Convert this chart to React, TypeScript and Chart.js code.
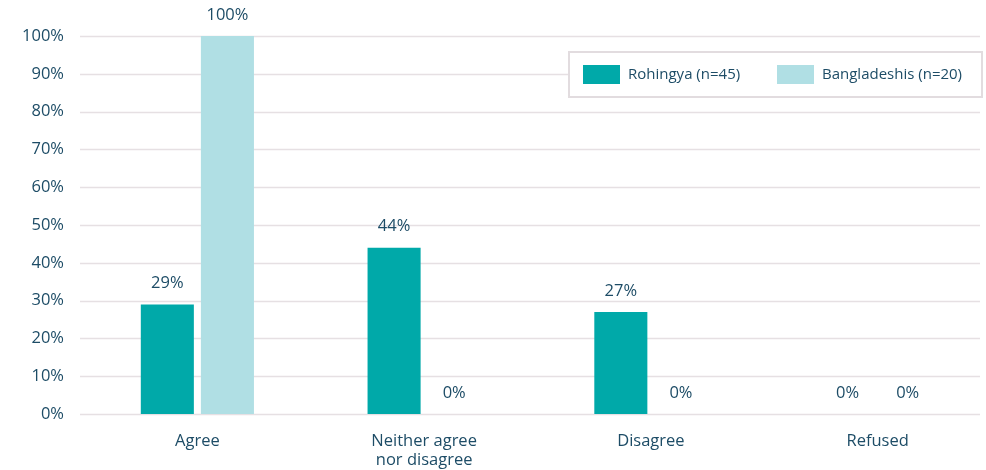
import React, { useEffect, useRef } from "react";
import { Chart, registerables } from "chart.js";

Chart.register(...registerables);

const categories: (string | string[])[] = ["Agree", ["Neither agree", "nor disagree"], "Disagree", "Refused"];
const rohingya = [29, 44, 27, 0];
const bangladeshis = [100, 0, 0, 0];
const seriesNames = ["Rohingya (n=45)", "Bangladeshis (n=20)"];
const seriesColors = ["#00a9a9", "#b0dfe4"];
const yTicks = [0, 10, 20, 30, 40, 50, 60, 70, 80, 90, 100];

const TEXT = "#1d4c66";
const GRID = "#e6e0e3";
const FONT = "'Open Sans', 'Noto Sans', sans-serif";

export default function App() {
  const ref = useRef<HTMLCanvasElement | null>(null);

  useEffect(() => {
    if (!ref.current) return;

    const gridPlugin = {
      id: "customGrid",
      beforeDatasetsDraw(chart: any) {
        const { ctx } = chart;
        const y = chart.scales.y;
        ctx.save();
        ctx.strokeStyle = GRID;
        ctx.lineWidth = 1.5;
        yTicks.forEach((t) => {
          const py = Math.round(y.getPixelForValue(t)) + 0.5;
          ctx.beginPath();
          ctx.moveTo(80, py);
          ctx.lineTo(980, py);
          ctx.stroke();
        });
        // legend box
        ctx.fillStyle = "#ffffff";
        ctx.fillRect(569, 52, 413, 45);
        ctx.strokeStyle = "#e2dcdf";
        ctx.lineWidth = 2;
        ctx.strokeRect(569, 52, 413, 45);
        ctx.restore();
      },
    };

    const labelPlugin = {
      id: "valueLabels",
      afterDatasetsDraw(chart: any) {
        const { ctx } = chart;
        ctx.save();
        ctx.fillStyle = TEXT;
        ctx.font = `16.5px ${FONT}`;
        ctx.textAlign = "center";
        ctx.textBaseline = "middle";
        chart.data.datasets.forEach((ds: any, i: number) => {
          const meta = chart.getDatasetMeta(i);
          meta.data.forEach((el: any, j: number) => {
            ctx.fillText(`${ds.data[j]}%`, el.x, el.y - 21);
          });
        });
        // legend items
        const items = [
          { x: 583, tx: 628 },
          { x: 777, tx: 822 },
        ];
        ctx.font = `15px ${FONT}`;
        ctx.textAlign = "left";
        items.forEach((it, i) => {
          ctx.fillStyle = seriesColors[i];
          ctx.fillRect(it.x, 65, 37, 19);
          ctx.fillStyle = TEXT;
          ctx.fillText(seriesNames[i], it.tx, 75);
        });
        ctx.restore();
      },
    };

    const chart = new Chart(ref.current, {
      type: "bar",
      data: {
        labels: categories as any,
        datasets: [
          {
            label: seriesNames[0],
            data: rohingya,
            backgroundColor: seriesColors[0],
            barPercentage: 0.883,
            categoryPercentage: 0.53,
          },
          {
            label: seriesNames[1],
            data: bangladeshis,
            backgroundColor: seriesColors[1],
            barPercentage: 0.883,
            categoryPercentage: 0.53,
          },
        ],
      },
      options: {
        responsive: false,
        animation: false,
        layout: { padding: { top: 36, right: 9, left: 0, bottom: 0 } },
        plugins: {
          legend: { display: false },
          tooltip: { enabled: false },
        },
        scales: {
          x: {
            grid: { display: false },
            border: { display: false },
            ticks: {
              color: TEXT,
              font: { family: FONT, size: 16.5, lineHeight: 1.15 },
              padding: 10,
              maxRotation: 0,
              autoSkip: false,
            },
            afterFit(scale: any) {
              scale.height = 56;
            },
          },
          y: {
            min: 0,
            max: 100,
            grid: { display: false },
            border: { display: false },
            ticks: {
              stepSize: 10,
              color: TEXT,
              font: { family: FONT, size: 16.5 },
              padding: 12,
              callback: (v: any) => `${v}%`,
            },
            afterFit(scale: any) {
              scale.width = 84;
            },
          },
        },
      },
      plugins: [gridPlugin, labelPlugin],
    });

    return () => chart.destroy();
  }, []);

  return (
    <div style={{ position: "fixed", left: 0, top: 0, width: 986, height: 470, overflow: "hidden", background: "#fff" }}>
      <canvas ref={ref} width={1000} height={470} />
    </div>
  );
}
